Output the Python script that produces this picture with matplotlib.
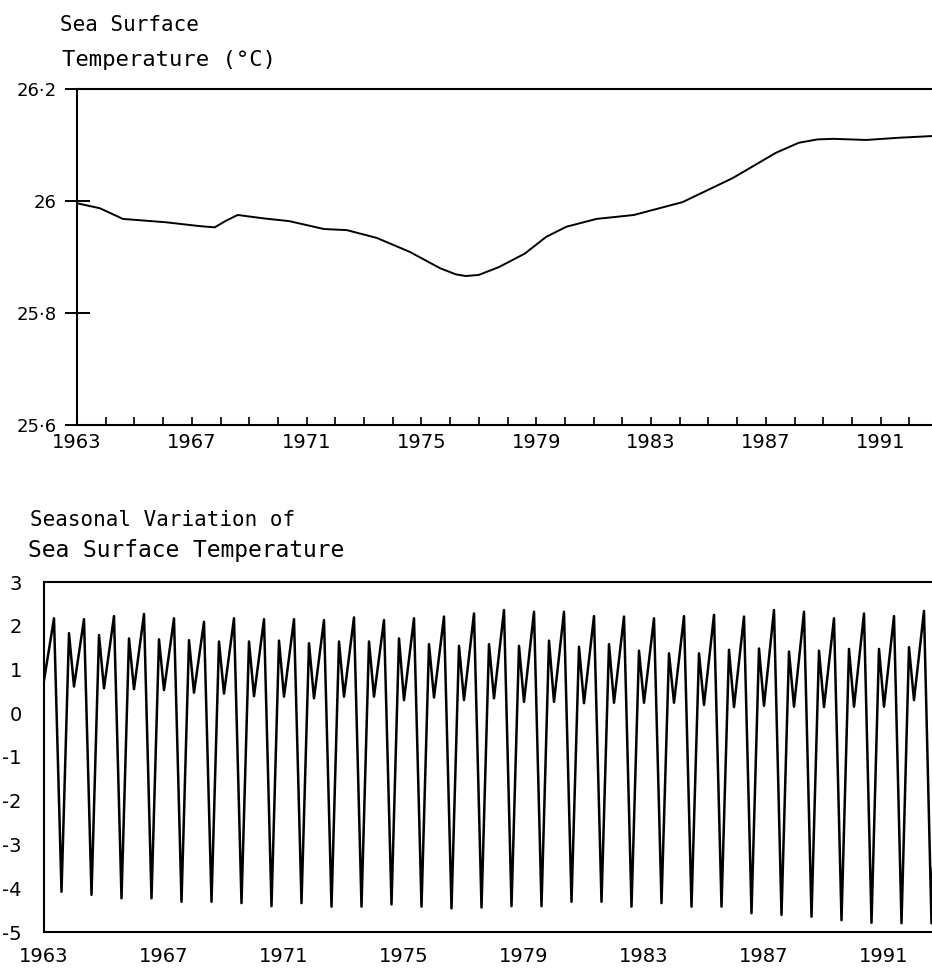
import numpy as np
import matplotlib
matplotlib.use("Agg")
import matplotlib.pyplot as plt

# ---- Top panel: sea surface temperature trend (deg C) ----
trend_years = [1963.0, 1963.8, 1964.6, 1966.1, 1967.3, 1967.8, 1968.2, 1968.6, 1969.5,
               1970.4, 1971.6, 1972.4, 1973.45, 1974.6, 1975.65, 1976.2, 1976.55,
               1977.0, 1977.7, 1978.6, 1979.35, 1980.05, 1981.1, 1982.4, 1984.1,
               1985.85, 1987.35, 1988.15, 1988.8, 1989.35, 1990.5, 1991.65, 1992.8]
trend_values = [25.996, 25.987, 25.968, 25.962, 25.955, 25.953, 25.965, 25.975, 25.969,
                25.964, 25.950, 25.948, 25.934, 25.909, 25.880, 25.869, 25.866,
                25.868, 25.882, 25.906, 25.936, 25.954, 25.968, 25.975, 25.998,
                26.041, 26.086, 26.104, 26.110, 26.111, 26.109, 26.113, 26.116]
top_yticks = [25.6, 25.8, 26.0, 26.2]
top_ytick_labels = ["25·6", "25·8", "26", "26·2"]

# ---- Bottom panel: seasonal variation (key points of each year) ----
season_years = list(range(1963, 1993))
jan_values = [0.75, 0.61, 0.57, 0.55, 0.53, 0.47, 0.45, 0.39, 0.38, 0.34,
              0.38, 0.38, 0.30, 0.36, 0.30, 0.34, 0.26, 0.26, 0.23, 0.24,
              0.24, 0.24, 0.19, 0.14, 0.17, 0.15, 0.14, 0.15, 0.15, 0.30]
may_values = [2.17, 2.15, 2.22, 2.27, 2.17, 2.09, 2.17, 2.15, 2.15, 2.13,
              2.19, 2.13, 2.17, 2.21, 2.28, 2.36, 2.32, 2.32, 2.22, 2.21,
              2.17, 2.22, 2.25, 2.21, 2.36, 2.32, 2.17, 2.28, 2.22, 2.34]
aug_values = [-4.08, -4.15, -4.23, -4.23, -4.31, -4.31, -4.34, -4.41, -4.34, -4.42,
              -4.42, -4.37, -4.42, -4.46, -4.44, -4.41, -4.41, -4.31, -4.31, -4.42,
              -4.34, -4.42, -4.42, -4.57, -4.61, -4.65, -4.73, -4.79, -4.80, -4.80]
nov_values = [1.83, 1.79, 1.71, 1.69, 1.67, 1.64, 1.64, 1.66, 1.60, 1.64,
              1.64, 1.71, 1.58, 1.54, 1.58, 1.54, 1.66, 1.52, 1.58, 1.43,
              1.37, 1.37, 1.45, 1.48, 1.41, 1.43, 1.47, 1.47, 1.51, 1.50]
key_months = [0, 4, 7, 10]   # Jan, May, Aug, Nov
year_labels = [1963, 1967, 1971, 1975, 1979, 1983, 1987, 1991]
bottom_yticks = [3, 2, 1, 0, -1, -2, -3, -4, -5]

season_x, season_y = [], []
for i, yr in enumerate(season_years):
    for m, arr in zip(key_months, (jan_values, may_values, aug_values, nov_values)):
        season_x.append(yr + m / 12.0)
        season_y.append(arr[i])

plt.rcParams['font.family'] = ['DejaVu Sans']
TITLE_FONT = ['DejaVu Sans Mono', 'DejaVu Sans']

W, H = 932, 972
fig = plt.figure(figsize=(W / 100, H / 100), dpi=100)

# ---------- top axes ----------
ax1 = fig.add_axes([77 / W, 1 - 425 / H, (W - 77) / W, (425 - 89) / H])
ax1.plot(trend_years, trend_values, color='black', lw=1.4)
ax1.set_xlim(1963, 1963 + (W - 77) / 28.7)
ax1.set_ylim(25.6, 26.2)
ax1.set_yticks(top_yticks)
ax1.set_yticklabels(top_ytick_labels)
ax1.set_xticks(list(range(1963, 1993)))
ax1.set_xticklabels([str(y) if y in year_labels else "" for y in range(1963, 1993)])
ax1.tick_params(axis='y', direction='inout', length=18, width=1.4, pad=5.5, labelsize=13)
ax1.tick_params(axis='x', direction='in', length=6, width=1.2, pad=6, labelsize=14)
ax1.spines['right'].set_visible(False)
for s in ('left', 'top', 'bottom'):
    ax1.spines[s].set_linewidth(1.5)

# ---------- bottom axes ----------
ax2 = fig.add_axes([44 / W, 1 - 932 / H, (W - 44) / W, (932 - 582) / H])
ax2.plot(season_x, season_y, color='black', lw=1.8)
ax2.set_xlim(1963, 1963 + (W - 44) / 30.0)
ax2.set_ylim(-5, 3)
ax2.set_yticks(bottom_yticks)
ax2.set_yticklabels([str(v) if v >= 0 else "-" + str(-v) for v in bottom_yticks])
ax2.set_xticks(year_labels)
ax2.set_xticklabels([str(y) for y in year_labels])
ax2.tick_params(axis='y', length=0, pad=16, labelsize=14)
ax2.tick_params(axis='x', length=0, pad=11, labelsize=14)
ax2.spines['right'].set_visible(False)
for s in ('left', 'top', 'bottom'):
    ax2.spines[s].set_linewidth(1.5)

# ---------- titles ----------
fig.text(60 / W, 1 - 25 / H, "Sea Surface", fontsize=15, family=TITLE_FONT, ha='left', va='center')
fig.text(62 / W, 1 - 60 / H, "Temperature (°C)", fontsize=16, family=TITLE_FONT, ha='left', va='center')
fig.text(30 / W, 1 - 520 / H, "Seasonal Variation of", fontsize=15, family=TITLE_FONT, ha='left', va='center')
fig.text(28 / W, 1 - 551 / H, "Sea Surface Temperature", fontsize=16.5, family=TITLE_FONT, ha='left', va='center')

fig.savefig("out.png", dpi=100)
